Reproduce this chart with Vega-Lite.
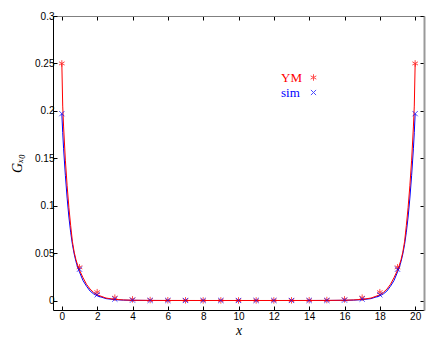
{
  "$schema": "https://vega.github.io/schema/vega-lite/v6.json",
  "width": 371,
  "height": 294,
  "autosize": "none",
  "padding": {"left": 53, "top": 16, "right": 13, "bottom": 33},
  "background": "white",
  "config": {
    "view": {"stroke": null},
    "axis": {"grid": false, "labelFont": "Liberation Sans", "labelFontSize": 10, "labelColor": "#000", "tickColor": "#000", "domainColor": "#000", "tickSize": -4, "titleFont": "Liberation Serif", "titleFontStyle": "italic", "titleFontWeight": "normal", "titleFontSize": 14, "titleColor": "#000"}
  },
  "datasets": {
    "curves": [
      {"x":0,"y":0.25,"s":"YM"},{"x":0.05,"y":0.205,"s":"YM"},{"x":0.1,"y":0.183,"s":"YM"},{"x":0.2,"y":0.148,"s":"YM"},{"x":0.3,"y":0.121,"s":"YM"},{"x":0.4,"y":0.098,"s":"YM"},{"x":0.5,"y":0.079,"s":"YM"},{"x":0.6,"y":0.062,"s":"YM"},{"x":0.7,"y":0.051,"s":"YM"},{"x":0.8,"y":0.043,"s":"YM"},{"x":0.9,"y":0.037,"s":"YM"},{"x":1,"y":0.032,"s":"YM"},{"x":1.2,"y":0.024,"s":"YM"},{"x":1.4,"y":0.017,"s":"YM"},{"x":1.6,"y":0.012,"s":"YM"},{"x":1.8,"y":0.0085,"s":"YM"},{"x":2,"y":0.006,"s":"YM"},{"x":2.5,"y":0.0026,"s":"YM"},{"x":3,"y":0.0012,"s":"YM"},{"x":3.5,"y":0.0006,"s":"YM"},{"x":4,"y":0.0003,"s":"YM"},{"x":5,"y":0.0001,"s":"YM"},{"x":6,"y":0.00005,"s":"YM"},{"x":8,"y":0.00003,"s":"YM"},{"x":10,"y":0.00003,"s":"YM"},{"x":12,"y":0.00003,"s":"YM"},{"x":14,"y":0.00005,"s":"YM"},{"x":15,"y":0.0001,"s":"YM"},{"x":16,"y":0.0003,"s":"YM"},{"x":16.5,"y":0.0006,"s":"YM"},{"x":17,"y":0.0012,"s":"YM"},{"x":17.5,"y":0.0026,"s":"YM"},{"x":18,"y":0.006,"s":"YM"},{"x":18.2,"y":0.0085,"s":"YM"},{"x":18.4,"y":0.012,"s":"YM"},{"x":18.6,"y":0.017,"s":"YM"},{"x":18.8,"y":0.024,"s":"YM"},{"x":19,"y":0.032,"s":"YM"},{"x":19.1,"y":0.037,"s":"YM"},{"x":19.2,"y":0.043,"s":"YM"},{"x":19.3,"y":0.051,"s":"YM"},{"x":19.4,"y":0.062,"s":"YM"},{"x":19.5,"y":0.079,"s":"YM"},{"x":19.6,"y":0.098,"s":"YM"},{"x":19.7,"y":0.121,"s":"YM"},{"x":19.8,"y":0.148,"s":"YM"},{"x":19.9,"y":0.183,"s":"YM"},{"x":19.95,"y":0.205,"s":"YM"},{"x":20,"y":0.25,"s":"YM"},
      {"x":0,"y":0.197,"s":"sim"},{"x":0.05,"y":0.177,"s":"sim"},{"x":0.1,"y":0.16,"s":"sim"},{"x":0.2,"y":0.132,"s":"sim"},{"x":0.3,"y":0.108,"s":"sim"},{"x":0.4,"y":0.088,"s":"sim"},{"x":0.5,"y":0.072,"s":"sim"},{"x":0.6,"y":0.059,"s":"sim"},{"x":0.7,"y":0.049,"s":"sim"},{"x":0.8,"y":0.041,"s":"sim"},{"x":0.9,"y":0.035,"s":"sim"},{"x":1,"y":0.03,"s":"sim"},{"x":1.2,"y":0.021,"s":"sim"},{"x":1.4,"y":0.015,"s":"sim"},{"x":1.6,"y":0.01,"s":"sim"},{"x":1.8,"y":0.007,"s":"sim"},{"x":2,"y":0.005,"s":"sim"},{"x":2.5,"y":0.002,"s":"sim"},{"x":3,"y":0.0009,"s":"sim"},{"x":3.5,"y":0.0004,"s":"sim"},{"x":4,"y":0.0002,"s":"sim"},{"x":5,"y":0.00006,"s":"sim"},{"x":6,"y":0.00002,"s":"sim"},{"x":8,"y":0.00001,"s":"sim"},{"x":10,"y":0.00001,"s":"sim"},{"x":12,"y":0.00001,"s":"sim"},{"x":14,"y":0.00002,"s":"sim"},{"x":15,"y":0.00006,"s":"sim"},{"x":16,"y":0.0002,"s":"sim"},{"x":16.5,"y":0.0004,"s":"sim"},{"x":17,"y":0.0009,"s":"sim"},{"x":17.5,"y":0.002,"s":"sim"},{"x":18,"y":0.005,"s":"sim"},{"x":18.2,"y":0.007,"s":"sim"},{"x":18.4,"y":0.01,"s":"sim"},{"x":18.6,"y":0.015,"s":"sim"},{"x":18.8,"y":0.021,"s":"sim"},{"x":19,"y":0.03,"s":"sim"},{"x":19.1,"y":0.035,"s":"sim"},{"x":19.2,"y":0.041,"s":"sim"},{"x":19.3,"y":0.049,"s":"sim"},{"x":19.4,"y":0.059,"s":"sim"},{"x":19.5,"y":0.072,"s":"sim"},{"x":19.6,"y":0.088,"s":"sim"},{"x":19.7,"y":0.108,"s":"sim"},{"x":19.8,"y":0.132,"s":"sim"},{"x":19.9,"y":0.16,"s":"sim"},{"x":19.95,"y":0.177,"s":"sim"},{"x":20,"y":0.197,"s":"sim"}
    ],
    "points": [
      {"x":0,"y":0.25,"s":"YM"},{"x":1,"y":0.035,"s":"YM"},{"x":2,"y":0.0088,"s":"YM"},{"x":3,"y":0.003,"s":"YM"},{"x":4,"y":0.0012,"s":"YM"},{"x":5,"y":0.0005,"s":"YM"},{"x":6,"y":0.0003,"s":"YM"},{"x":7,"y":0.0002,"s":"YM"},{"x":8,"y":0.0001,"s":"YM"},{"x":9,"y":0.0001,"s":"YM"},{"x":10,"y":0.0001,"s":"YM"},{"x":11,"y":0.0001,"s":"YM"},{"x":12,"y":0.0001,"s":"YM"},{"x":13,"y":0.0002,"s":"YM"},{"x":14,"y":0.0003,"s":"YM"},{"x":15,"y":0.0005,"s":"YM"},{"x":16,"y":0.0012,"s":"YM"},{"x":17,"y":0.003,"s":"YM"},{"x":18,"y":0.0088,"s":"YM"},{"x":19,"y":0.035,"s":"YM"},{"x":20,"y":0.25,"s":"YM"},
      {"x":0,"y":0.197,"s":"sim"},{"x":1,"y":0.033,"s":"sim"},{"x":2,"y":0.006,"s":"sim"},{"x":3,"y":0.0015,"s":"sim"},{"x":4,"y":0.0004,"s":"sim"},{"x":5,"y":0.0001,"s":"sim"},{"x":6,"y":0.00005,"s":"sim"},{"x":7,"y":0.00005,"s":"sim"},{"x":8,"y":0.00005,"s":"sim"},{"x":9,"y":0.00005,"s":"sim"},{"x":10,"y":0.00005,"s":"sim"},{"x":11,"y":0.00005,"s":"sim"},{"x":12,"y":0.00005,"s":"sim"},{"x":13,"y":0.00005,"s":"sim"},{"x":14,"y":0.00005,"s":"sim"},{"x":15,"y":0.0001,"s":"sim"},{"x":16,"y":0.0004,"s":"sim"},{"x":17,"y":0.0015,"s":"sim"},{"x":18,"y":0.006,"s":"sim"},{"x":19,"y":0.033,"s":"sim"},{"x":20,"y":0.197,"s":"sim"}
    ]
  },
  "resolve": {"axis": {"x": "independent", "y": "independent"}},
  "layer": [
    {
      "data": {"name": "curves"},
      "transform": [{"filter": "datum.s === 'sim'"}],
      "mark": {"type": "line", "strokeWidth": 1, "clip": true, "color": "#0000ff"},
      "encoding": {
        "x": {"field": "x", "type": "quantitative", "scale": {"domain": [-0.5, 20.5], "nice": false, "zero": false}, "axis": {"orient": "bottom", "values": [0,2,4,6,8,10,12,14,16,18,20], "title": "x", "labelPadding": 5, "titlePadding": 2}},
        "y": {"field": "y", "type": "quantitative", "scale": {"domain": [-0.01, 0.3], "nice": false, "zero": false}, "axis": {"orient": "left", "values": [0,0.05,0.1,0.15,0.2,0.25,0.3], "format": "~g", "title": "Gₓ₀", "labelPadding": 3, "titlePadding": 10}}
      }
    },
    {
      "data": {"name": "curves"},
      "transform": [{"filter": "datum.s === 'YM'"}],
      "mark": {"type": "line", "strokeWidth": 1, "clip": true, "color": "#ff0000"},
      "encoding": {
        "x": {"field": "x", "type": "quantitative", "axis": {"orient": "top", "values": [0,2,4,6,8,10,12,14,16,18,20], "labels": false, "title": null, "domainColor": "#808080"}},
        "y": {"field": "y", "type": "quantitative", "axis": {"orient": "right", "values": [0,0.05,0.1,0.15,0.2,0.25,0.3], "labels": false, "title": null, "domainColor": "#999999", "domainWidth": 2}}
      }
    },
    {
      "data": {"name": "points"},
      "mark": {"type": "point", "filled": false, "strokeWidth": 1, "size": 42, "clip": true},
      "encoding": {
        "x": {"field": "x", "type": "quantitative", "axis": null},
        "y": {"field": "y", "type": "quantitative", "axis": null},
        "color": {"field": "s", "type": "nominal", "scale": {"domain": ["YM","sim"], "range": ["#ff0000","#0000ff"]}, "legend": {"title": null, "orient": "none", "legendX": 254, "legendY": 55, "padding": 0, "symbolSize": 42, "symbolStrokeWidth": 1, "labelFont": "Liberation Serif", "labelFontSize": 13, "labelFontWeight": "normal", "labelAlign": "left", "labelOffset": -39, "rowPadding": 1, "labelColor": {"expr": "datum.value === 'YM' ? '#ff0000' : '#0000ff'"}}},
        "shape": {"field": "s", "type": "nominal", "scale": {"domain": ["YM","sim"], "range": ["M0,-1L0,1M-0.87,-0.5L0.87,0.5M-0.87,0.5L0.87,-0.5", "M-0.8,-0.8L0.8,0.8M-0.8,0.8L0.8,-0.8"]}, "legend": {"title": null, "orient": "none", "legendX": 254, "legendY": 55, "padding": 0, "symbolSize": 42, "symbolStrokeWidth": 1, "labelFont": "Liberation Serif", "labelFontSize": 13, "labelFontWeight": "normal", "labelAlign": "left", "labelOffset": -39, "rowPadding": 1, "labelColor": {"expr": "datum.value === 'YM' ? '#ff0000' : '#0000ff'"}}}
      }
    }
  ]
}
